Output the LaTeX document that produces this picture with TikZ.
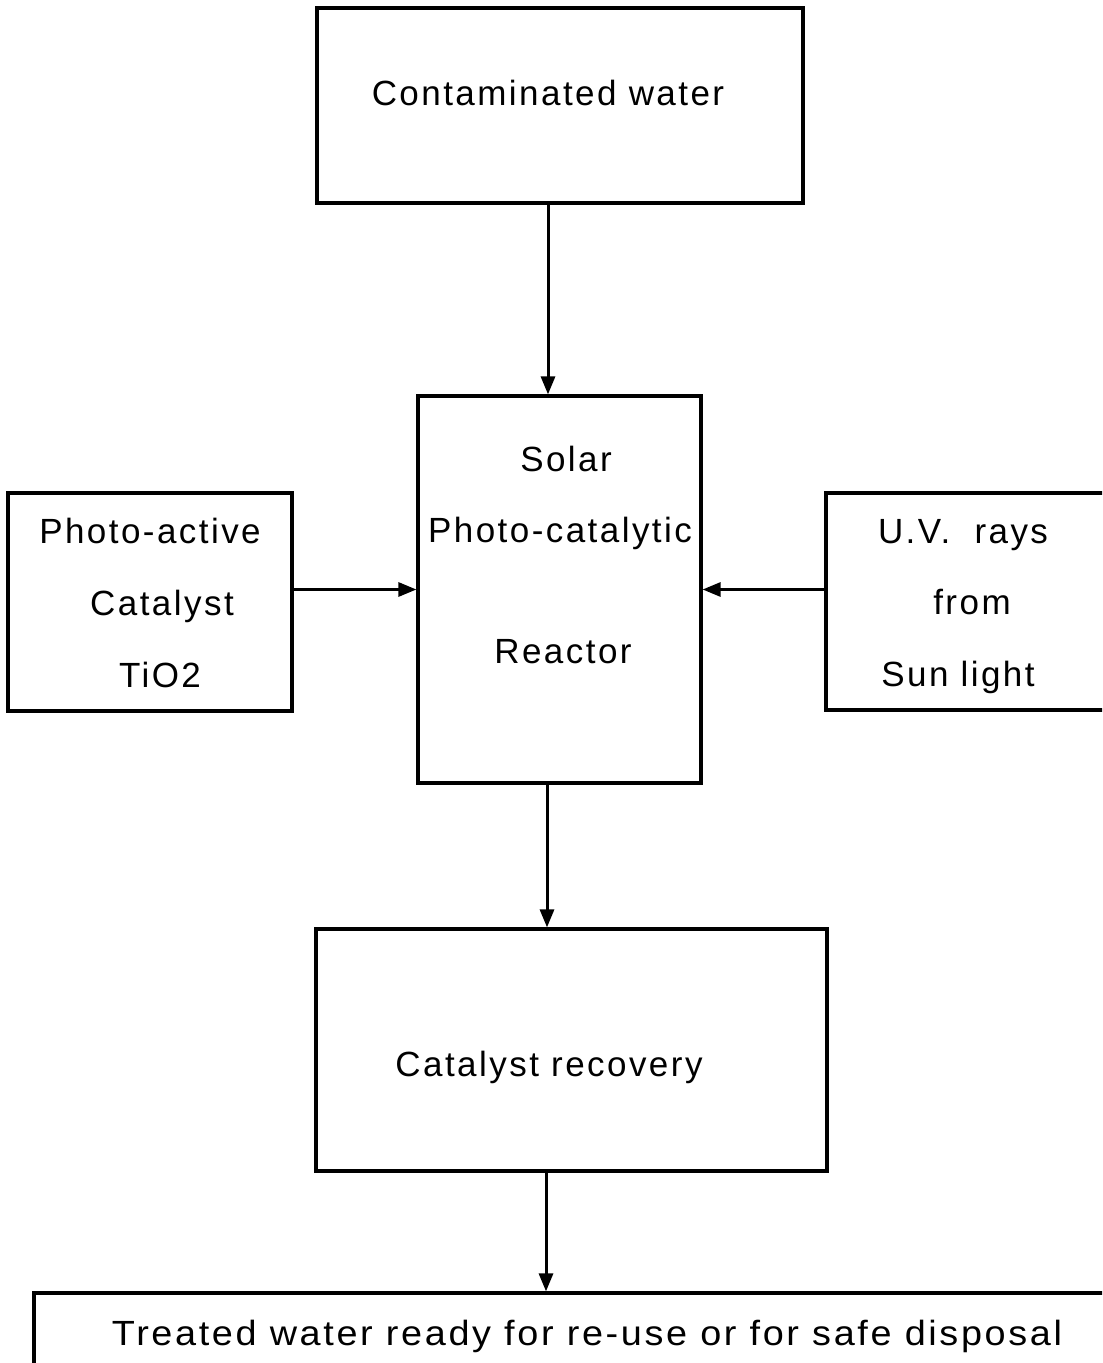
\documentclass[tikz,border=0pt]{standalone}
\usepackage{fontspec}
\setmainfont[LetterSpace=7]{Liberation Sans}
\usepackage{tikz}
\usetikzlibrary{arrows.meta}

\newcommand{\lblfont}{\fontsize{17.5pt}{21pt}\selectfont}
\tikzset{
    box/.style={draw, line width=1.6pt, inner sep=0pt},
    lbl/.style={font=\lblfont, anchor=base, inner sep=0pt},
    flow/.style={-{Triangle[length=9pt, width=7pt]}, line width=1.5pt}
}

\begin{document}
\begin{tikzpicture}[x=0.5pt, y=-0.5pt]
    \clip (0,0) rectangle (1102,1363);

    % Boxes
    \node[box, minimum width=243pt, minimum height=97.5pt] (water) at (560,105.5) {};
    \node[box, minimum width=141.5pt, minimum height=193.5pt] (reactor) at (559.5,589.5) {};
    \node[box, minimum width=142pt, minimum height=109pt] (cat) at (150,602) {};
    \node[box, minimum width=147pt, minimum height=108.5pt] (uv) at (973,601.5) {};
    \node[box, minimum width=255.5pt, minimum height=121pt] (recov) at (571.5,1050) {};
    \node[box, minimum width=548pt, minimum height=53.5pt] (treated) at (582,1346.5) {};

    % Labels
    \node[lbl] (waterlbl) at (548,106) {Contaminated water};
    \node[lbl] (solar) at (566,471) {Solar};
    \node[lbl] (photo) at (560,542) {Photo-catalytic};
    \node[lbl] (reac) at (563,663) {Reactor};
    \node[lbl] (active) at (150,543) {Photo-active};
    \node[lbl] (catal) at (162,615) {Catalyst};
    \node[lbl] (tio) at (160,687) {TiO2};
    \node[lbl] (rays) at (963,543) {U.V.\ \ rays};
    \node[lbl] (from) at (972,614) {from};
    \node[lbl] (sun) at (958,686) {Sun light};
    \node[lbl] (recovlbl) at (549,1076) {Catalyst recovery};
    \node[lbl, transform shape, xscale=1.08] (treatedlbl) at (587,1345) {Treated water ready for re-use or for safe disposal};

    % Flow
    \coordinate (w1) at ([xshift=-6pt]water.south);
    \coordinate (r1) at ([xshift=-6.25pt]reactor.south);
    \coordinate (c1) at ([xshift=-12.75pt]recov.south);
    \draw[flow] (w1) -- (w1 |- reactor.north);
    \draw[flow] (cat.east |- reactor.west) -- (reactor.west);
    \draw[flow] (uv.west |- reactor.east) -- (reactor.east);
    \draw[flow] (r1) -- (r1 |- recov.north);
    \draw[flow] (c1) -- (c1 |- treated.north);
\end{tikzpicture}
\end{document}
